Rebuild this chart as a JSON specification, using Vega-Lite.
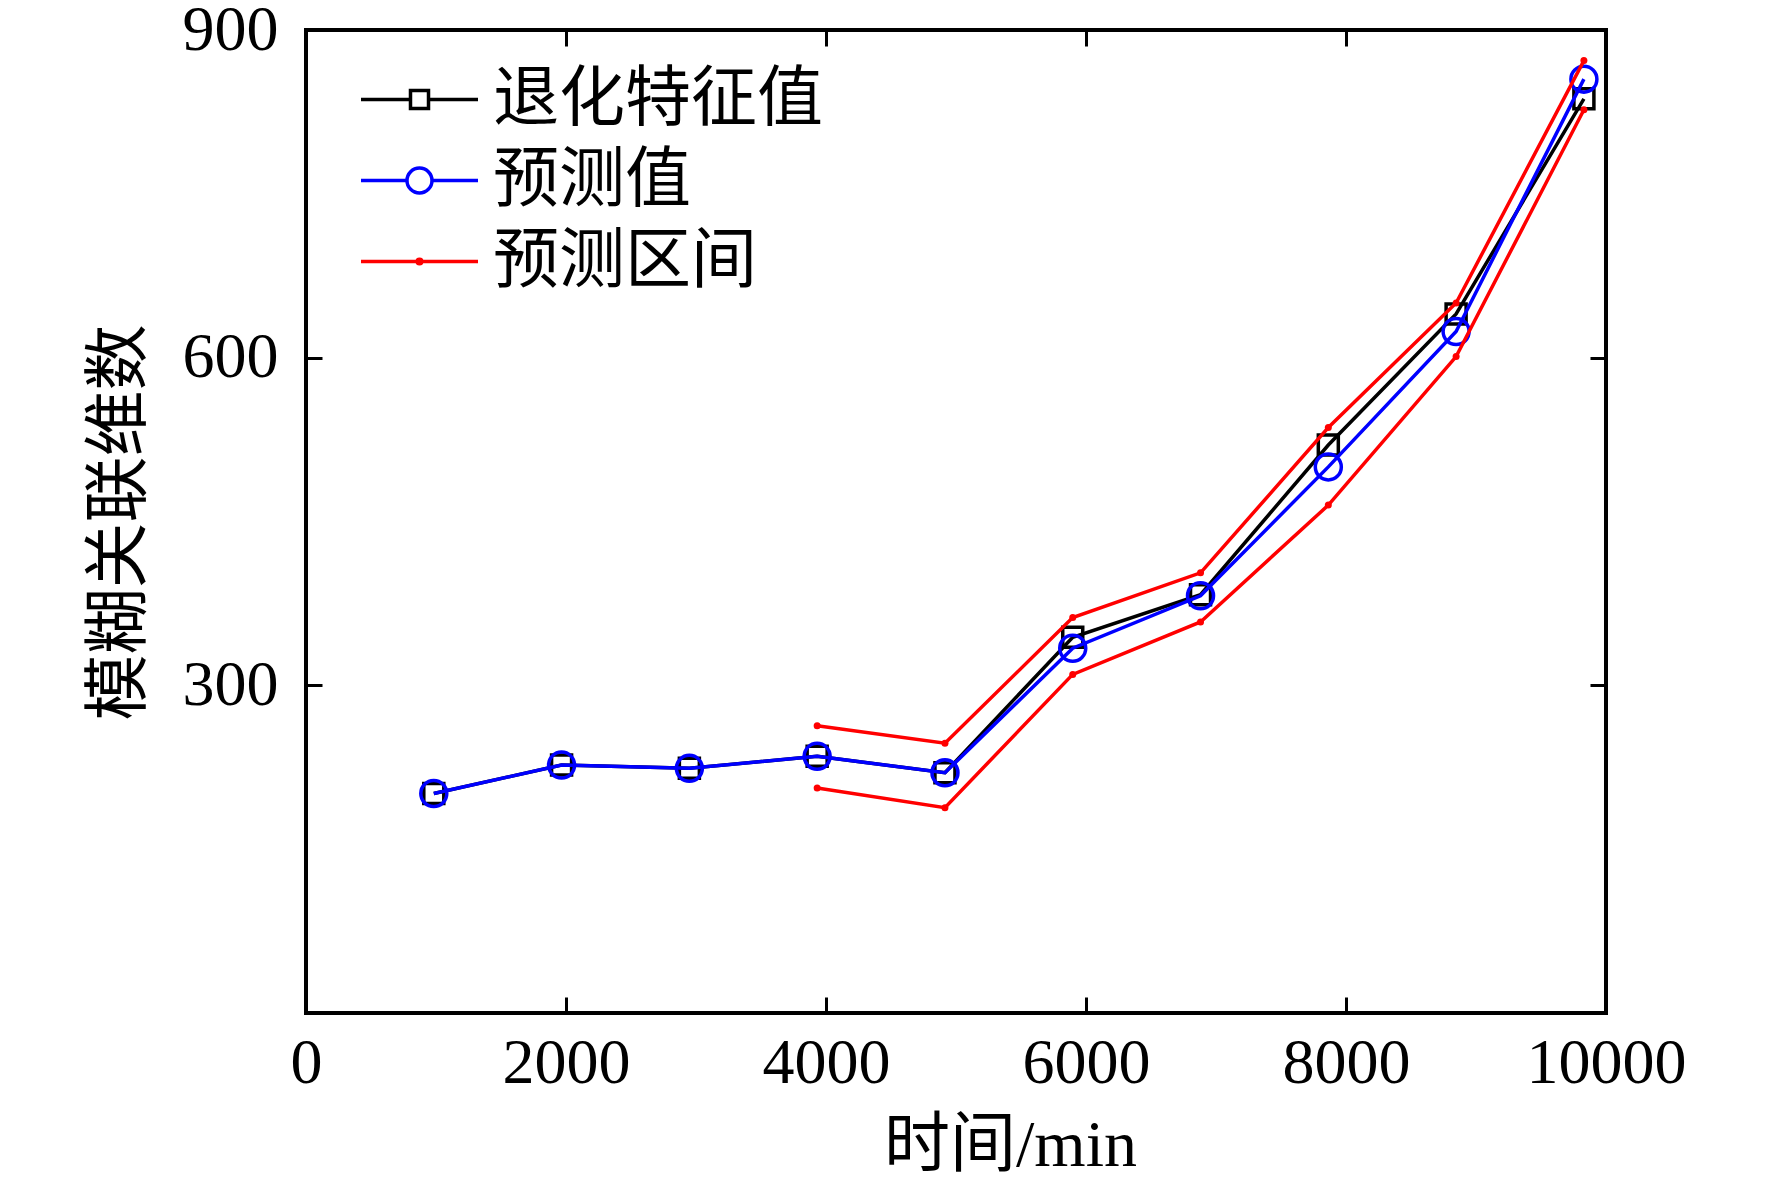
{
  "$schema": "https://vega.github.io/schema/vega-lite/v6.json",
  "width": 1300,
  "height": 983,
  "autosize": {"type": "none"},
  "padding": {"left": 306, "top": 30, "right": 166, "bottom": 175},
  "background": "white",
  "config": {
    "view": {"stroke": "black", "strokeWidth": 4},
    "font": "'Liberation Serif','Noto Sans CJK SC'",
    "axis": {
      "labelFont": "'Liberation Serif','Noto Sans CJK SC'",
      "labelFontSize": 64,
      "labelColor": "black",
      "titleFont": "'Liberation Serif','Noto Sans CJK SC'",
      "titleFontSize": 66,
      "titleFontWeight": "normal",
      "titleColor": "black",
      "domain": false,
      "grid": false,
      "tickColor": "black",
      "tickWidth": 3,
      "tickSize": -16,
      "labelFlush": false,
      "labelOverlap": false,
      "format": "d"
    },
    "legend": {
      "labelFont": "'Liberation Serif','Noto Sans CJK SC'",
      "labelFontSize": 66,
      "labelColor": "black",
      "labelLimit": 0,
      "padding": 0,
      "labelOffset": 13,
      "symbolStrokeWidth": 3.5,
      "symbolOpacity": 1
    }
  },
  "datasets": {
    "main": [
      {"t": 983, "v": 201, "s": "退化特征值", "b": "退化特征值"},
      {"t": 1966, "v": 227, "s": "退化特征值", "b": "退化特征值"},
      {"t": 2949, "v": 224, "s": "退化特征值", "b": "退化特征值"},
      {"t": 3932, "v": 235, "s": "退化特征值", "b": "退化特征值"},
      {"t": 4915, "v": 220, "s": "退化特征值", "b": "退化特征值"},
      {"t": 5898, "v": 344, "s": "退化特征值", "b": "退化特征值"},
      {"t": 6881, "v": 383, "s": "退化特征值", "b": "退化特征值"},
      {"t": 7864, "v": 520, "s": "退化特征值", "b": "退化特征值"},
      {"t": 8847, "v": 640, "s": "退化特征值", "b": "退化特征值"},
      {"t": 9830, "v": 837, "s": "退化特征值", "b": "退化特征值"},
      {"t": 983, "v": 201, "s": "预测值", "b": "预测值"},
      {"t": 1966, "v": 227, "s": "预测值", "b": "预测值"},
      {"t": 2949, "v": 224, "s": "预测值", "b": "预测值"},
      {"t": 3932, "v": 235, "s": "预测值", "b": "预测值"},
      {"t": 4915, "v": 220, "s": "预测值", "b": "预测值"},
      {"t": 5898, "v": 334, "s": "预测值", "b": "预测值"},
      {"t": 6881, "v": 382, "s": "预测值", "b": "预测值"},
      {"t": 7864, "v": 500, "s": "预测值", "b": "预测值"},
      {"t": 8847, "v": 624, "s": "预测值", "b": "预测值"},
      {"t": 9830, "v": 855, "s": "预测值", "b": "预测值"},
      {"t": 3932, "v": 263, "s": "预测区间", "b": "上限"},
      {"t": 4915, "v": 247, "s": "预测区间", "b": "上限"},
      {"t": 5898, "v": 362, "s": "预测区间", "b": "上限"},
      {"t": 6881, "v": 403, "s": "预测区间", "b": "上限"},
      {"t": 7864, "v": 536, "s": "预测区间", "b": "上限"},
      {"t": 8847, "v": 650, "s": "预测区间", "b": "上限"},
      {"t": 9830, "v": 872, "s": "预测区间", "b": "上限"},
      {"t": 3932, "v": 206, "s": "预测区间", "b": "下限"},
      {"t": 4915, "v": 188, "s": "预测区间", "b": "下限"},
      {"t": 5898, "v": 310, "s": "预测区间", "b": "下限"},
      {"t": 6881, "v": 358, "s": "预测区间", "b": "下限"},
      {"t": 7864, "v": 465, "s": "预测区间", "b": "下限"},
      {"t": 8847, "v": 601, "s": "预测区间", "b": "下限"},
      {"t": 9830, "v": 827, "s": "预测区间", "b": "下限"}
    ]
  },
  "data": {"name": "main"},
  "encoding": {
    "x": {"field": "t", "type": "quantitative", "scale": {"domain": [0, 10000], "nice": false, "zero": false}},
    "y": {"field": "v", "type": "quantitative", "scale": {"domain": [0, 900], "nice": false}}
  },
  "layer": [
    {
      "transform": [{"filter": "datum.s === '退化特征值'"}],
      "mark": {"type": "line", "color": "black", "strokeWidth": 3.5,
        "point": {"shape": "square", "filled": false, "size": 400, "strokeWidth": 3.5, "color": "black", "opacity": 1}},
      "encoding": {
        "x": {"field": "t", "type": "quantitative", "scale": {"domain": [0, 10000], "nice": false, "zero": false},
          "axis": {"orient": "bottom", "values": [0, 2000, 4000, 6000, 8000, 10000], "title": "时间/min",
            "labelPadding": 34, "titleX": 704, "titleY": 152, "titleBaseline": "alphabetic", "titleAlign": "center"}},
        "y": {"field": "v", "type": "quantitative", "scale": {"domain": [0, 900], "nice": false},
          "axis": {"orient": "left", "values": [300, 600, 900], "title": "模糊关联维数", "labelPadding": 44,
            "titleX": -187, "titleY": 492, "titleAngle": -90, "titleBaseline": "middle", "titleAlign": "center"}}
      }
    },
    {
      "transform": [{"filter": "datum.s === '预测值'"}],
      "mark": {"type": "line", "color": "#0000ff", "strokeWidth": 3.5,
        "point": {"shape": "circle", "filled": false, "size": 676, "strokeWidth": 3.5, "color": "#0000ff", "opacity": 1}},
      "encoding": {
        "x": {"field": "t", "type": "quantitative", "axis": null},
        "y": {"field": "v", "type": "quantitative", "axis": null}
      }
    },
    {
      "transform": [{"filter": "datum.s === '预测区间'"}],
      "mark": {"type": "line", "color": "#ff0000", "strokeWidth": 3.5,
        "point": {"shape": "circle", "filled": true, "size": 49, "color": "#ff0000", "opacity": 1}},
      "encoding": {
        "x": {"field": "t", "type": "quantitative",
          "axis": {"orient": "top", "values": [0, 2000, 4000, 6000, 8000, 10000], "labels": false, "title": null}},
        "y": {"field": "v", "type": "quantitative",
          "axis": {"orient": "right", "values": [300, 600, 900], "labels": false, "title": null}},
        "detail": {"field": "b"}
      }
    },
    {
      "transform": [{"filter": "datum.t < 0"}],
      "mark": {"type": "point", "filled": false, "size": 13689, "strokeWidth": 3.5, "opacity": 1},
      "encoding": {
        "x": {"field": "t", "type": "quantitative", "axis": null},
        "y": {"field": "v", "type": "quantitative", "axis": null},
        "shape": {"field": "s", "type": "nominal",
          "scale": {"domain": ["退化特征值", "预测值", "预测区间"],
            "range": [
              "M-1,0H-0.154M0.154,0H1M-0.154,-0.154H0.154V0.154H-0.154Z",
              "M-1,0H-0.214M0.214,0H1M0.214,0A0.214,0.214 0 1,1 -0.214,0A0.214,0.214 0 1,1 0.214,0Z",
              "M-1,0H1M0.04,0A0.04,0.04 0 1,1 -0.04,0A0.04,0.04 0 1,1 0.04,0Z"
            ]},
          "legend": {"title": null, "orient": "none", "legendX": 53, "legendY": 29, "rowPadding": 0, "clipHeight": 81, "symbolSize": 13689, "labelLimit": 0}},
        "stroke": {"field": "s", "type": "nominal",
          "scale": {"domain": ["退化特征值", "预测值", "预测区间"], "range": ["black", "#0000ff", "#ff0000"]},
          "legend": {"title": null, "orient": "none", "legendX": 53, "legendY": 29, "rowPadding": 0, "clipHeight": 81, "symbolSize": 13689, "labelLimit": 0}}
      }
    }
  ]
}
